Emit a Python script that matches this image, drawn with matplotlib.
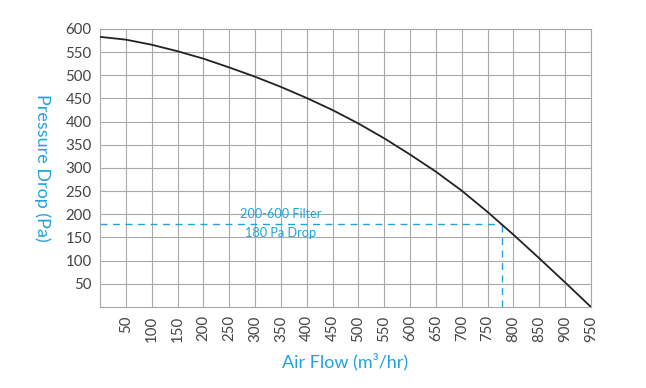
import matplotlib.pyplot as plt

plt.rcParams['font.family'] = ['Lato', 'DejaVu Sans']

# air flow (m3/hr) vs pressure drop (Pa)
flow = [0, 50, 100, 150, 200, 250, 300, 350, 400, 450, 500, 550, 600, 650, 700, 750, 800, 850, 900, 950]
pressure = [583, 577, 566, 552, 536, 517, 497, 475, 451, 425, 396, 364, 329, 292, 251, 205, 156, 105, 53, 0]

mark_flow = 778
mark_drop = 180

x_ticks = list(range(50, 951, 50))
y_ticks = list(range(50, 601, 50))

blue = '#1fa3dc'
grid = '#a8a8a8'

fig = plt.figure(figsize=(6.46, 3.88), dpi=100)
ax = fig.add_axes([0.1548, 0.2088, 0.76, 0.7165])

ax.plot(flow, pressure, color='#222222', lw=1.3, zorder=3)
ax.plot([0, mark_flow], [mark_drop, mark_drop], color=blue, lw=1, ls=(0, (5, 4)), zorder=2)
ax.plot([mark_flow, mark_flow], [0, mark_drop], color=blue, lw=1, ls=(0, (5, 4)), zorder=2)

ax.text(350, 201, '200-600 Filter', color=blue, fontsize=9.2, ha='center', va='center')
ax.text(350, 159, '180 Pa Drop', color=blue, fontsize=9.2, ha='center', va='center')

ax.set_xlim(0, 950)
ax.set_ylim(0, 600)
ax.set_xticks(x_ticks)
ax.set_xticklabels([str(v) for v in x_ticks], rotation=90)
ax.set_yticks(y_ticks)
ax.grid(True, color=grid, lw=0.8)
ax.set_axisbelow(True)
ax.tick_params(length=0, labelsize=10.8, labelcolor='#444444', pad=6)
for s in ax.spines.values():
    s.set_color(grid)
    s.set_linewidth(0.8)

ax.set_ylabel('Pressure Drop (Pa)', color=blue, fontsize=13, rotation=270, va='center')
ax.yaxis.set_label_coords(-0.117, 0.5)
ax.set_xlabel('Air Flow (m³/hr)', color=blue, fontsize=13, va='center')
ax.xaxis.set_label_coords(0.5, -0.198)

fig.savefig('out.png', dpi=100)
